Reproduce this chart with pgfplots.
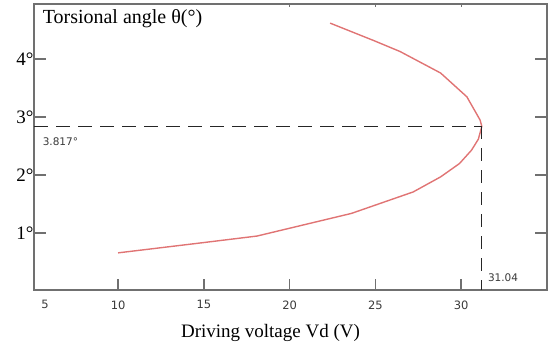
\documentclass[border=0pt]{standalone}
\usepackage{pgfplots}
\pgfplotsset{compat=1.18}
\usepackage{fontspec}
\setmainfont{Liberation Serif}
\newfontfamily\tickfont{DejaVu Sans}
\definecolor{axgray}{HTML}{707070}
\definecolor{curvered}{HTML}{E07474}
\definecolor{ticktext}{HTML}{3A3A3A}
\begin{document}
\begin{tikzpicture}
\useasboundingbox (-34pt,-54pt) rectangle (518pt,290pt);
\begin{axis}[
  at={(0pt,0pt)}, anchor=south west,
  scale only axis, width=513pt, height=286pt,
  xmin=5.1, xmax=35.0, ymin=0.02, ymax=4.95,
  axis line style={axgray, line width=1.6pt},
  xtick={10,15,20,25,30},
  xticklabels={10,15,20,25,30},
  ytick={1,2,3,4},
  yticklabels={1°,2°,3°,4°},
  xtick pos=bottom,
  ytick pos=both,
  tick align=inside,
  major tick length=11pt,
  tick style={draw=axgray, line width=1.6pt},
  xticklabel style={font=\tickfont\fontsize{11.5}{13}\selectfont, text=ticktext, yshift=-7pt},
  yticklabel style={font=\fontsize{19}{21}\selectfont, xshift=3pt},
  xlabel={Driving voltage Vd (V)},
  xlabel style={font=\fontsize{19}{21}\selectfont, xshift=-20pt, yshift=-8pt},
  clip=false,
]
\addplot[curvered, line width=1.4pt] coordinates {
(10,0.66) (14.78,0.83) (18.1,0.95) (23.6,1.34) (27.2,1.71) (28.8,1.97)
(29.9,2.2) (30.6,2.43) (31.0,2.62) (31.2,2.84) (31.1,2.95) (30.33,3.35)
(28.8,3.76) (26.44,4.13) (24.9,4.32) (22.36,4.62)
};
\addplot[black!85, line width=1.3pt, dash pattern=on 14pt off 8pt] coordinates {(5.1,2.84) (31.2,2.84)};
\addplot[black!85, line width=1.3pt, dash pattern=on 13pt off 9pt] coordinates {(31.2,2.84) (31.2,0.02)};
% tick marks (axis decoration)
\draw[axgray, line width=1.6pt] (axis cs:10,0.02) -- ++(0pt,10pt);
\draw[axgray, line width=1.6pt] (axis cs:15,0.02) -- ++(0pt,10pt);
\draw[axgray, line width=1.6pt] (axis cs:20,0.02) -- ++(0pt,10pt);
\draw[axgray, line width=1.6pt] (axis cs:25,0.02) -- ++(0pt,10pt);
\draw[axgray, line width=1.6pt] (axis cs:30,0.02) -- ++(0pt,10pt);
\draw[axgray, line width=1.4pt] (axis cs:20,4.95) -- ++(0pt,-3pt);
\draw[axgray, line width=1.4pt] (axis cs:25,4.95) -- ++(0pt,-3pt);
\draw[axgray, line width=1.4pt] (axis cs:30,4.95) -- ++(0pt,-3pt);
\draw[axgray, line width=1.6pt] (axis cs:5.1,1) -- ++(12pt,0pt);
\draw[axgray, line width=1.6pt] (axis cs:5.1,2) -- ++(12pt,0pt);
\draw[axgray, line width=1.6pt] (axis cs:5.1,3) -- ++(12pt,0pt);
\draw[axgray, line width=1.6pt] (axis cs:5.1,4) -- ++(12pt,0pt);
\draw[axgray, line width=1.6pt] (axis cs:35,1) -- ++(-12pt,0pt);
\draw[axgray, line width=1.6pt] (axis cs:35,2) -- ++(-12pt,0pt);
\draw[axgray, line width=1.6pt] (axis cs:35,3) -- ++(-12pt,0pt);
\draw[axgray, line width=1.6pt] (axis cs:35,4) -- ++(-12pt,0pt);
\node[anchor=north west, inner sep=0pt, font=\fontsize{20}{22}\selectfont] at (axis cs:5.6,4.85) {Torsional angle θ(°)};
\node[anchor=west, inner sep=0pt, font=\tickfont\fontsize{10.5}{12}\selectfont, text=ticktext] at (axis cs:5.6,2.57) {3.817°};
\node[anchor=west, inner sep=0pt, font=\tickfont\fontsize{10.5}{12}\selectfont, text=ticktext] at (axis cs:31.55,0.24) {31.04};
\node[anchor=north, font=\tickfont\fontsize{11.5}{13}\selectfont, text=ticktext] at ([yshift=-7pt]axis cs:5.75,0.02) {5};
\end{axis}
\end{tikzpicture}
\end{document}
